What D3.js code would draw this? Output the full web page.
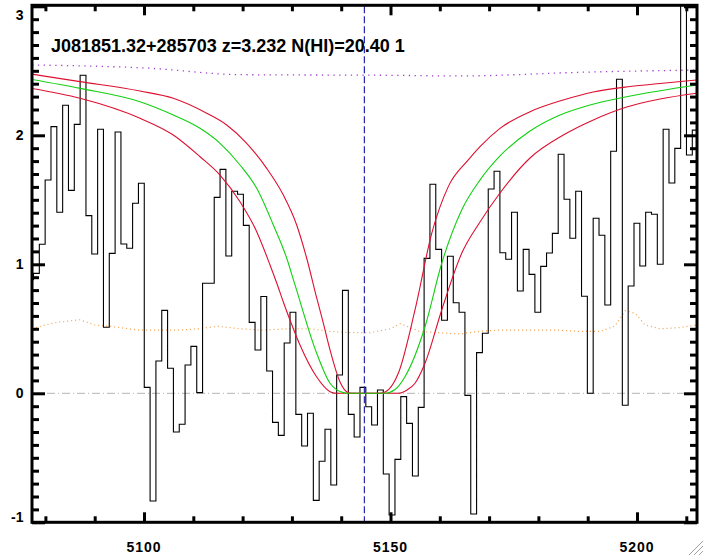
<!DOCTYPE html>
<html><head><meta charset="utf-8">
<script src="https://cdn.jsdelivr.net/npm/d3@7"></script>
<style>html,body{margin:0;padding:0;background:#fff;}svg{display:block;}</style>
</head><body>
<svg id="chart" width="704" height="556"></svg>
<script>
// ---------------- data ----------------
const titleText = "J081851.32+285703 z=3.232 N(HI)=20.40 1";
const waveStart = 5076.40;   // left edge of first pixel (Å)
const waveStep = 1.1826;     // pixel width (Å)
const flux = [0.88,0.93,1.155,1.653,2.067,1.403,2.233,1.573,2.085,2.465,
  1.377,1.08,2.047,0.512,1.085,2.026,1.157,1.124,1.473,1.628,
  0.046,-0.835,0.25,0.643,0.194,-0.30,-0.24,0.219,0.364,0.005,
  0.853,0.853,1.519,1.736,1.064,1.566,1.543,1.302,0.55,0.336,
  0.75,0.173,-0.225,-0.326,0.39,0.628,-0.163,-0.409,-0.155,-0.83,
  -0.527,-0.279,-0.711,0.142,0.798,-0.163,-0.339,0.046,-0.104,-0.246,
  0.026,-0.626,-0.943,-0.512,-0.026,-0.233,-0.641,-0.109,1.046,1.62,
  1.116,0.566,1.062,0.702,0.628,-0.016,-0.936,0.315,0.465,1.584,
  1.721,1.09,1.039,1.403,0.793,1.116,0.922,0.628,0.984,1.088,
  1.240,1.853,1.504,1.202,1.566,0.752,0.0,1.357,1.225,0.684,
  1.876,2.434,-0.093,0.832,1.318,0.987,1.403,1.388,1.0,2.047,
  1.630,1.899,3.3,1.847,2.04];
const contWave = [5077.3,5101,5119.5,5150,5164,5190,5212.2];
const contFlux = [2.545,2.52,2.47,2.465,2.46,2.49,2.506];
const errWave = [5077.3,5080,5082.4,5087,5090,5093,5099,5103,5107,5111,5115,5119.5,5123.5,5129.6,5133.7,5137.7,5141.8,5145.8,5149.9,5152,5156,5160,5164,5168,5172,5176,5180,5184,5188,5192.5,5195.5,5197.6,5199.6,5201.6,5204.7,5208.7,5212.2];
const errFlux = [0.50,0.53,0.55,0.57,0.53,0.52,0.49,0.49,0.49,0.50,0.52,0.50,0.49,0.50,0.50,0.48,0.47,0.47,0.50,0.54,0.48,0.47,0.46,0.48,0.49,0.49,0.49,0.49,0.48,0.48,0.52,0.64,0.62,0.53,0.50,0.51,0.53];
// model profiles: low N (upper red), best N (green), high N (lower red)
const fitLoWave = [5077.08,5087.02,5099.19,5105.94,5112.72,5116.77,5120.83,5124.89,5128.26,5130.97,5133.00,5135.03,5136.31,5137.73,5139.76,5141.18,5142.19,
  5147.87,5149.70,5151.58,5154.97,5158.36,5161.72,5165.78,5168.15,5172.21,5178.30,5185.05,5191.14,5198.58,5204.67,5212.11];
const fitLoFlux = [2.475,2.416,2.343,2.287,2.171,2.080,1.938,1.744,1.537,1.305,1.047,0.739,0.553,0.336,0.088,0.010,0,
  0,0.033,0.155,0.646,1.240,1.602,1.809,1.912,2.054,2.183,2.274,2.336,2.378,2.402,2.429];
const fitMidWave = [5077.08,5087.02,5099.19,5105.94,5111.36,5115.42,5119.47,5122.86,5126.23,5128.95,5130.63,5135.03,5137.73,5140.43,5141.38,
  5148.88,5150.91,5152.94,5157.00,5160.39,5164.44,5168.15,5172.21,5178.30,5184.38,5190.47,5197.91,5212.11];
const fitMidFlux = [2.434,2.364,2.260,2.157,2.054,1.938,1.770,1.589,1.305,1.047,0.840,0.310,0.078,0.005,0,
  0,0.029,0.129,0.516,1.008,1.421,1.653,1.840,2.033,2.157,2.235,2.299,2.390];
const fitHiWave = [5077.08,5087.02,5099.19,5105.94,5111.36,5115.42,5119.47,5122.86,5125.56,5126.92,5128.26,5129.61,5131.64,5135.03,5137.73,5138.95,
  5151.58,5153.35,5154.97,5157.00,5160.39,5164.44,5168.15,5172.21,5178.30,5185.05,5191.14,5197.91,5204.67,5212.11];
const fitHiFlux = [2.364,2.287,2.132,2.002,1.834,1.692,1.485,1.253,0.995,0.855,0.708,0.568,0.374,0.126,0.012,0,
  0,0.026,0.078,0.233,0.646,1.085,1.328,1.553,1.824,2.002,2.119,2.219,2.281,2.326];
const lyaWave = 5144.7;
const xMajor = [5100,5150,5200];
const xMinor = [5080,5090,5110,5120,5130,5140,5160,5170,5180,5190,5210];
const yMajor = [-1,0,1,2,3];
const xDomain = [5077.28,5212.17];
const yDomain = [-1,3];

// ---------------- drawing ----------------
const svg = d3.select("#chart");
const L = 32, R = 697, T = 6.3, B = 522.3;
const x = d3.scaleLinear().domain(xDomain).range([L,R]);
const y = d3.scaleLinear().domain(yDomain).range([B,T]);

svg.append("defs").append("clipPath").attr("id","clip")
  .append("rect").attr("x",L).attr("y",T-2).attr("width",R-L).attr("height",B-T+2);
const g = svg.append("g").attr("clip-path","url(#clip)");

// zero line
g.append("line").attr("x1",L).attr("x2",R).attr("y1",y(0)).attr("y2",y(0))
  .attr("stroke","#b4b4b4").attr("stroke-width",1).attr("stroke-dasharray","8,3,1,3");

// error spectrum
g.append("path").datum(errWave.map((w,i)=>[w,errFlux[i]]))
  .attr("d",d3.line().x(d=>x(d[0])).y(d=>y(d[1]))).attr("fill","none")
  .attr("stroke","#f2a04a").attr("stroke-width",1.2).attr("stroke-dasharray","1,3");

// continuum
g.append("path").datum(contWave.map((w,i)=>[w,contFlux[i]]))
  .attr("d",d3.line().x(d=>x(d[0])).y(d=>y(d[1])).curve(d3.curveMonotoneX))
  .attr("fill","none").attr("stroke","#a040d0").attr("stroke-width",1.3).attr("stroke-dasharray","1.3,4.5");

// histogram
const steps = flux.map((v,i)=>[waveStart+i*waveStep, v]);
steps.push([waveStart+flux.length*waveStep, flux[flux.length-1]]);
g.append("path").datum(steps)
  .attr("d",d3.line().x(d=>x(d[0])).y(d=>y(d[1])).curve(d3.curveStepAfter))
  .attr("fill","none").attr("stroke","#000").attr("stroke-width",1.1);

// fits
const smooth = d3.line().x(d=>x(d[0])).y(d=>y(d[1])).curve(d3.curveMonotoneX);
[[fitLoWave,fitLoFlux,"#dd1030"],[fitHiWave,fitHiFlux,"#dd1030"],[fitMidWave,fitMidFlux,"#10d010"]].forEach(([w,f,c])=>{
  g.append("path").datum(w.map((v,i)=>[v,f[i]])).attr("d",smooth)
    .attr("fill","none").attr("stroke",c).attr("stroke-width",1.1);
});

// Lya line
g.append("line").attr("x1",x(lyaWave)).attr("x2",x(lyaWave)).attr("y1",T).attr("y2",B)
  .attr("stroke","#2828b0").attr("stroke-width",1.2).attr("stroke-dasharray","7,3");

// axes
function styleAxis(sel){ sel.select(".domain").remove(); sel.selectAll("text").remove();
  sel.selectAll("line").attr("stroke","#000").attr("stroke-width",3); }
const yMinor = d3.range(-1,3.001,0.1).map(v=>+v.toFixed(1)).filter(v=>!yMajor.includes(v));
svg.append("g").attr("transform",`translate(${L},0)`).call(d3.axisLeft(y).tickValues(yMajor).tickSize(-13)).call(styleAxis);
svg.append("g").attr("transform",`translate(${L},0)`).call(d3.axisLeft(y).tickValues(yMinor).tickSize(-7)).call(styleAxis);
svg.append("g").attr("transform",`translate(${R},0)`).call(d3.axisRight(y).tickValues(yMajor).tickSize(-13)).call(styleAxis);
svg.append("g").attr("transform",`translate(${R},0)`).call(d3.axisRight(y).tickValues(yMinor).tickSize(-7)).call(styleAxis);
svg.append("g").attr("transform",`translate(0,${B})`).call(d3.axisBottom(x).tickValues(xMajor).tickSize(-10)).call(styleAxis);
svg.append("g").attr("transform",`translate(0,${B})`).call(d3.axisBottom(x).tickValues(xMinor).tickSize(-6)).call(styleAxis);
svg.append("g").attr("transform",`translate(0,${T-1})`).call(d3.axisTop(x).tickValues(xMajor).tickSize(-10)).call(styleAxis);
svg.append("g").attr("transform",`translate(0,${T-1})`).call(d3.axisTop(x).tickValues(xMinor).tickSize(-6)).call(styleAxis);
// frame
svg.append("rect").attr("x",L).attr("y",T-1).attr("width",R-L).attr("height",B-T+1)
  .attr("fill","none").attr("stroke","#000").attr("stroke-width",3);

// labels
const font = "'Liberation Sans', Arial, Helvetica, sans-serif";
svg.append("g").selectAll("text").data(yMajor).join("text")
  .attr("x",L-8.5).attr("y",d=>Math.max(15,Math.min(517,y(d)))).attr("dy","0.36em")
  .attr("text-anchor","end").attr("font-family",font).attr("font-weight","bold").attr("font-size",14)
  .text(d=>d);
svg.append("g").selectAll("text").data(xMajor).join("text")
  .attr("x",d=>x(d)).attr("y",552).attr("text-anchor","middle")
  .attr("font-family",font).attr("font-weight","bold").attr("font-size",14).attr("letter-spacing","1px")
  .text(d=>d);
svg.append("text").attr("x",51).attr("y",52).attr("font-family",font).attr("font-weight","bold")
  .attr("font-size",18).text(titleText);

// window resize grip
const grip = svg.append("g").attr("stroke","#a0a0a0").attr("stroke-width",1);
[[703,541,689,555],[703,546,694,555],[703,551,699,555]].forEach(p=>grip.append("line")
  .attr("x1",p[0]).attr("y1",p[1]).attr("x2",p[2]).attr("y2",p[3]));
</script>
</body></html>
